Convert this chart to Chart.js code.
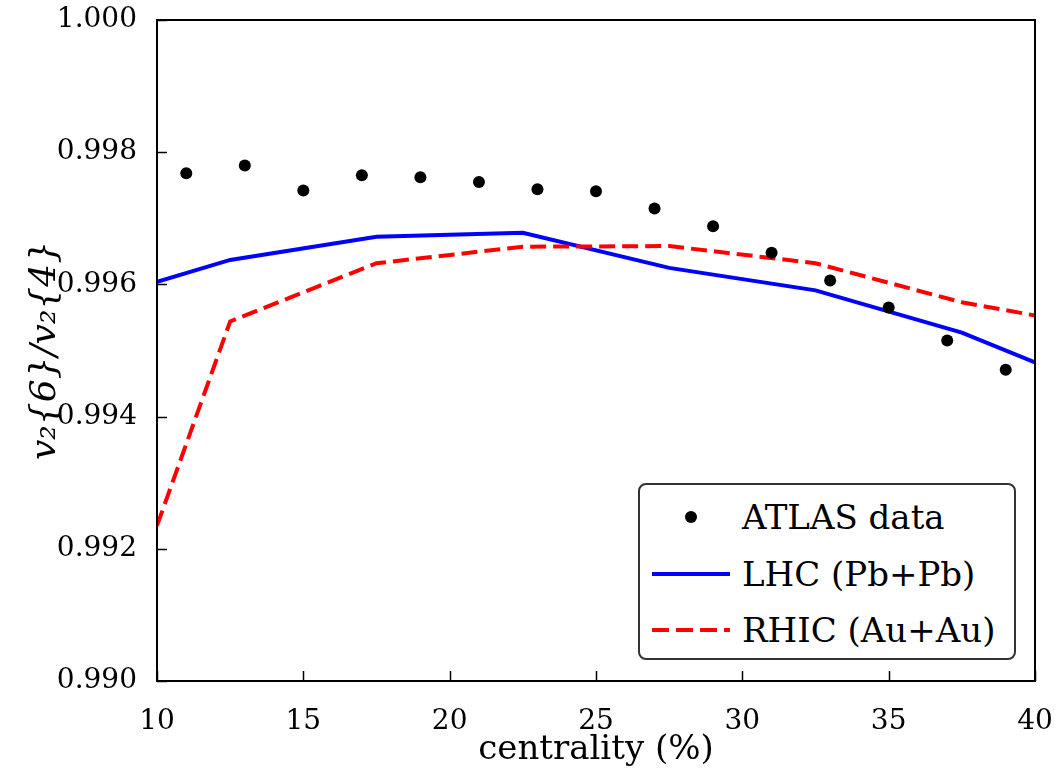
<!DOCTYPE html>
<html>
<head>
<meta charset="utf-8">
<script src="https://cdn.jsdelivr.net/npm/chart.js@4/dist/chart.umd.min.js"></script>
<style>
  body { margin: 0; background: #fff; }
  #wrap { position: relative; width: 1055px; height: 773px; }
  #legend {
    position: absolute; left: 638px; top: 483px; width: 374px; height: 173px;
    border: 2px solid #333; border-radius: 8px; background: #fff;
    font-family: "DejaVu Serif", serif; font-size: 34px; color: #000;
  }
  .row { position: absolute; left: 0; height: 40px; }
  .mark { position: absolute; left: 12px; width: 78px; height: 40px; }
  .txt { position: absolute; left: 102px; white-space: nowrap; line-height: 40px; }
</style>
</head>
<body>
<div id="wrap">
  <canvas id="chart" width="1055" height="773"></canvas>
  <div id="legend"></div>
</div>
<script>
// ATLAS data points
const atlasX = [11, 13, 15, 17, 19, 21, 23, 25, 27, 29, 31, 33, 35, 37, 39];
const atlasY = [0.99768, 0.99780, 0.99742, 0.99765, 0.99762, 0.99755, 0.99744, 0.99741,
                0.99715, 0.99688, 0.99648, 0.99606, 0.99565, 0.99515, 0.99471];

// model curves
const lhcX = [10, 12.5, 17.5, 22.5, 27.5, 32.5, 37.5, 40];
const lhcY = [0.99604, 0.99637, 0.99672, 0.99678, 0.99625, 0.99591, 0.99527, 0.99482];
const rhicX = [10, 12.5, 17.5, 22.5, 27.5, 32.5, 37.5, 40];
const rhicY = [0.99235, 0.99544, 0.99632, 0.99657, 0.99658, 0.99632, 0.99573, 0.99553];

const xTicks = [10, 15, 20, 25, 30, 35, 40];
const yTicks = [0.990, 0.992, 0.994, 0.996, 0.998, 1.000];

const toPts = (xs, ys) => xs.map((x, i) => ({ x: x, y: ys[i] }));
const serif = '"DejaVu Serif", serif';

// frame + inward ticks like matplotlib
const framePlugin = {
    id: 'frame',
    afterDraw(chart) {
        const { ctx, chartArea: a, scales } = chart;
        ctx.save();
        ctx.strokeStyle = '#000';
        ctx.lineWidth = 2;
        ctx.strokeRect(a.left, a.top, a.right - a.left, a.bottom - a.top);
        ctx.lineWidth = 1.5;
        xTicks.forEach(v => {
            const px = Math.round(scales.x.getPixelForValue(v)) + 0.5;
            ctx.beginPath(); ctx.moveTo(px, a.bottom); ctx.lineTo(px, a.bottom - 10); ctx.stroke();
        });
        yTicks.forEach(v => {
            const py = Math.round(scales.y.getPixelForValue(v)) + 0.5;
            ctx.beginPath(); ctx.moveTo(a.left, py); ctx.lineTo(a.left + 10, py); ctx.stroke();
        });
        ctx.restore();
    }
};

const chart = new Chart(document.getElementById('chart'), {
    type: 'scatter',
    data: {
        datasets: [
            {
                label: 'ATLAS data',
                data: toPts(atlasX, atlasY),
                showLine: false,
                pointRadius: 6,
                backgroundColor: '#000',
                borderColor: '#000',
                borderWidth: 0,
                order: 0
            },
            {
                label: 'LHC (Pb+Pb)',
                data: toPts(lhcX, lhcY),
                showLine: true,
                pointRadius: 0,
                borderColor: '#0000ff',
                borderWidth: 4,
                order: 2
            },
            {
                label: 'RHIC (Au+Au)',
                data: toPts(rhicX, rhicY),
                showLine: true,
                pointRadius: 0,
                borderColor: '#ff0000',
                borderWidth: 4,
                borderDash: [16, 7],
                order: 1
            }
        ]
    },
    options: {
        responsive: false,
        animation: false,
        layout: { padding: { top: 20, right: 20, left: 0, bottom: 0 } },
        plugins: {
            legend: { display: false },
            tooltip: { enabled: false }
        },
        scales: {
            x: {
                type: 'linear',
                min: 10, max: 40,
                afterBuildTicks: s => { s.ticks = xTicks.map(v => ({ value: v })); },
                afterFit: s => { s.height = 92; s.paddingLeft = 0; s.paddingRight = 0; },
                grid: { display: false },
                border: { display: false },
                ticks: {
                    color: '#000', padding: 16,
                    font: { family: serif, size: 28 },
                    callback: v => String(v)
                },
                title: {
                    display: true, text: 'centrality (%)', color: '#000',
                    font: { family: serif, size: 34 }, padding: { top: 0, bottom: 2 }
                }
            },
            y: {
                min: 0.990, max: 1.000,
                afterBuildTicks: s => { s.ticks = yTicks.map(v => ({ value: v })); },
                afterFit: s => { s.width = 157; s.paddingTop = 0; s.paddingBottom = 0; },
                grid: { display: false },
                border: { display: false },
                ticks: {
                    color: '#000', padding: 12,
                    font: { family: serif, size: 28 },
                    callback: v => Number(v).toFixed(3)
                },
                title: {
                    display: true, text: 'v₂{6}/v₂{4}', color: '#000',
                    font: { family: serif, size: 36, style: 'italic' }, padding: { top: 24, bottom: 0 }
                }
            }
        }
    },
    plugins: [framePlugin]
});

// legend box inside the plot, built from the datasets
const legend = document.getElementById('legend');
const rowTops = [12, 69, 125];
chart.data.datasets.forEach((ds, i) => {
    const row = document.createElement('div');
    row.className = 'row';
    row.style.top = rowTops[i] + 'px';
    const mark = document.createElement('div');
    mark.className = 'mark';
    if (!ds.showLine) {
        mark.innerHTML = '<div style="position:absolute;left:33px;top:14px;width:12px;height:12px;border-radius:50%;background:' + ds.backgroundColor + '"></div>';
    } else if (ds.borderDash) {
        mark.innerHTML = '<div style="position:absolute;left:0;top:18px;width:78px;height:4px;background:repeating-linear-gradient(to right,' + ds.borderColor + ' 0 17px,transparent 17px 24px)"></div>';
    } else {
        mark.innerHTML = '<div style="position:absolute;left:0;top:18px;width:78px;height:4px;background:' + ds.borderColor + '"></div>';
    }
    const txt = document.createElement('div');
    txt.className = 'txt';
    txt.textContent = ds.label;
    row.appendChild(mark);
    row.appendChild(txt);
    legend.appendChild(row);
});
</script>
</body>
</html>
